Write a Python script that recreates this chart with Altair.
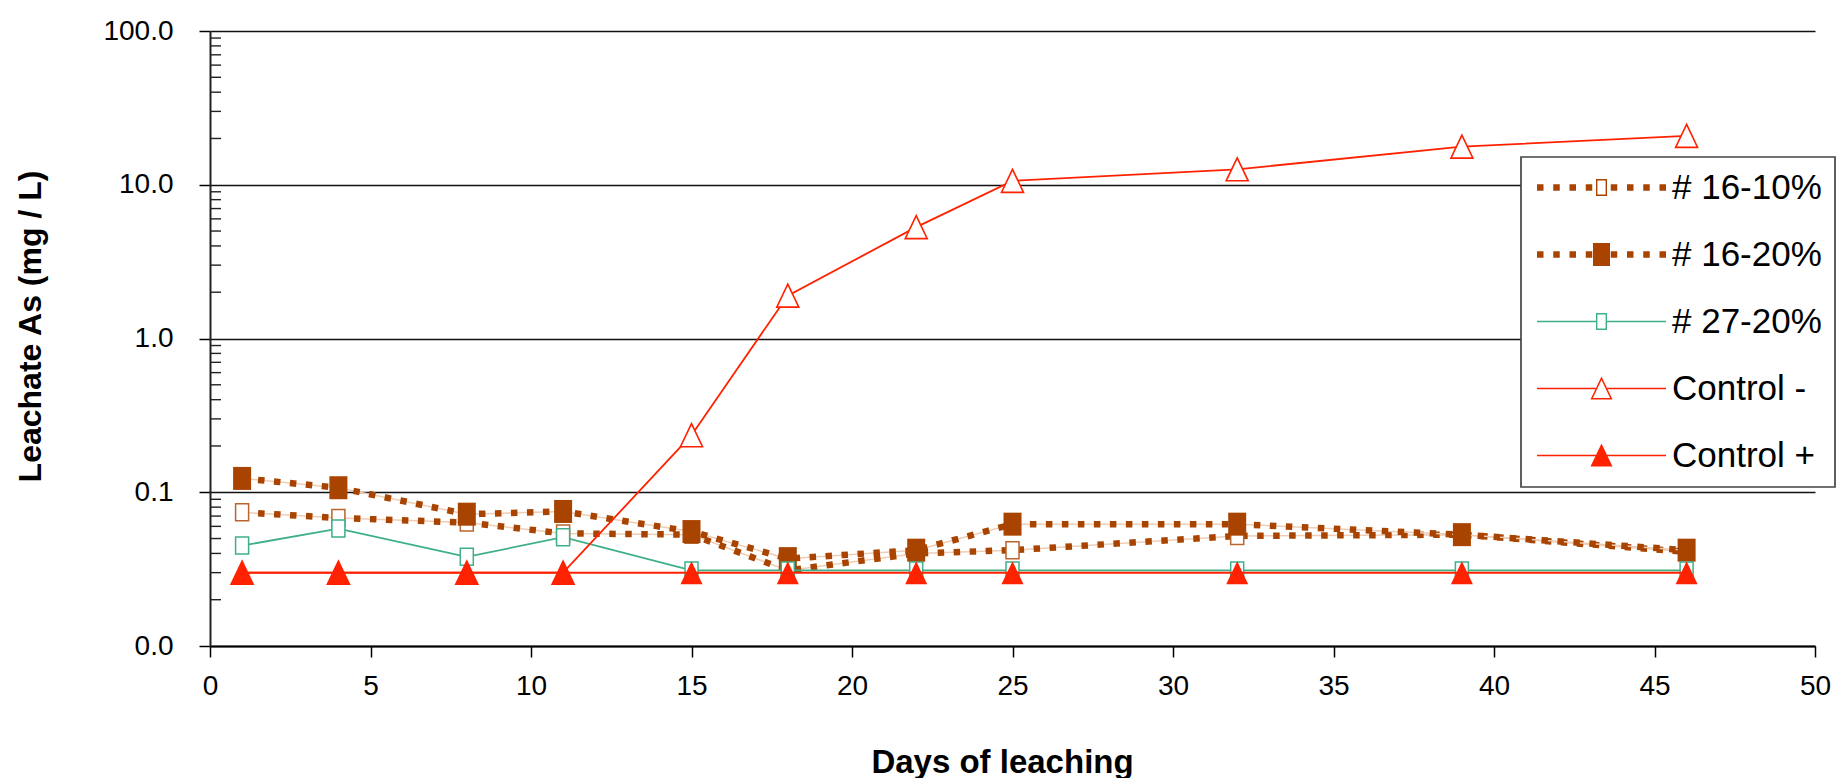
import altair as alt
import pandas as pd

# ---------------- data ----------------
days = [1, 4, 8, 11, 15, 18, 22, 25, 32, 39, 46]
s16_10 = [0.074, 0.068, 0.0635, 0.054, 0.053, 0.031, 0.040, 0.042, 0.052, 0.053, 0.041]
s16_20 = [0.123, 0.107, 0.072, 0.075, 0.0555, 0.037, 0.042, 0.062, 0.062, 0.053, 0.042]
s27_20 = [0.045, 0.058, 0.038, 0.051, 0.031, 0.031, 0.031, 0.031, 0.031, 0.031, 0.031]
ctrl_minus = [0.03, 0.03, 0.03, 0.03, 0.235, 1.9, 5.3, 10.6, 12.6, 17.7, 20.8]
ctrl_plus = [0.03, 0.03, 0.03, 0.03, 0.03, 0.03, 0.03, 0.03, 0.03, 0.03, 0.03]

series_names = ["# 16-10%", "# 16-20%", "# 27-20%", "Control -", "Control +"]
series_values = [s16_10, s16_20, s27_20, ctrl_minus, ctrl_plus]

x_ticks = [0, 5, 10, 15, 20, 25, 30, 35, 40, 45, 50]
y_ticks = [0.01, 0.1, 1, 10, 100]
minor_mult = [2, 3, 4, 5, 6, 7, 8, 9]
minor_decades = [0.01, 0.1, 1, 10]
y_minor = [m * d for d in minor_decades for m in minor_mult]

frames = {
    n: pd.DataFrame({"day": days, "value": v, "series": n})
    for n, v in zip(series_names, series_values)
}
df_all = pd.concat(list(frames.values()), ignore_index=True)
df_minor = pd.DataFrame({"value": y_minor})

# ---------------- styles ----------------
FONT = "Liberation Sans"
BROWN = "#A84400"
BROWN_OPEN = "#B9652E"
PEACH = "#EFCDB5"
TEAL = "#3FAF89"
RED = "#FF2200"

x_axis = alt.Axis(
    values=x_ticks, format="d", title="Days of leaching", grid=False,
    tickSize=11, tickColor="black", tickWidth=1.5,
    domainColor="black", domainWidth=2,
    labelFont=FONT, labelFontSize=28, labelColor="black", labelPadding=15,
    labelFlush=False, labelOverlap=False,
    titleFont=FONT, titleFontSize=33, titleFontWeight="bold", titleColor="black",
    titleX=792, titleY=116, titleAlign="center", titleBaseline="middle",
)
y_axis = alt.Axis(
    values=y_ticks, format=".1f", title="Leachate As (mg / L)", grid=True,
    gridColor="#111111", gridWidth=1.6,
    tickSize=11, tickColor="black", tickWidth=1.5,
    domainColor="#222222", domainWidth=2,
    labelFont=FONT, labelFontSize=28, labelColor="black", labelPadding=26,
    labelFlush=False, labelOverlap=False,
    titleFont=FONT, titleFontSize=32, titleFontWeight="bold", titleColor="black",
    titleAngle=270, titleX=-180, titleY=295, titleAlign="center", titleBaseline="middle",
)
X = alt.X("day:Q", scale=alt.Scale(domain=[0, 50], nice=False, zero=False), axis=x_axis)
Y = alt.Y("value:Q", scale=alt.Scale(type="log", domain=[0.01, 100], nice=False), axis=y_axis)

# marker shapes (unit paths)
OPEN_SQ = "M-0.765,-1H0.765V1H-0.765Z"
FILL_SQ = "M-0.783,-1H0.783V1H-0.783Z"
TRI = "M0,-1L0.957,1L-0.957,1Z"


def line(name, color, width, dash=None):
    kw = dict(color=color, strokeWidth=width, strokeCap="butt")
    if dash:
        kw["strokeDash"] = dash
    return alt.Chart(frames[name]).mark_line(**kw).encode(x=X, y=Y)


def points(name, shape, size, fill, stroke=None, sw=0.0):
    kw = dict(shape=shape, size=size, filled=True, fill=fill, opacity=1)
    if stroke:
        kw.update(stroke=stroke, strokeWidth=sw)
    else:
        kw.update(strokeWidth=0)
    return alt.Chart(frames[name]).mark_point(**kw).encode(x=X, y=Y)


minor_rules = alt.Chart(df_minor).mark_rule(color="#222222", strokeWidth=1.4).encode(
    y=Y, x=alt.value(0), x2=alt.value(11)
)

# ---------------- legend symbols (line + marker, px units) ----------------
def rect(cx, cy, w, h):
    return f"M{cx - w / 2:.2f},{cy - h / 2:.2f}h{w:.2f}v{h:.2f}h{-w:.2f}Z"


def rect_ccw(cx, cy, w, h):
    return f"M{cx - w / 2:.2f},{cy - h / 2:.2f}v{h:.2f}h{w:.2f}v{-h:.2f}Z"


dot_x = [-61.25, -45, -28.75, -12.5, 12.5, 28.75, 45, 61.25]
dots = "".join(rect(x, 0, 6.5, 6.5) for x in dot_x)
ring_sq = rect(0, 0, 11, 17) + rect_ccw(0, 0, 8.2, 14.2)
ring_tri = "M0,-12L11,11L-11,11Z" + "M0,-8.5L-8.6,9.5L8.6,9.5Z"
leg_paths = [
    dots + ring_sq,
    dots + rect(0, 0, 17, 23),
    rect(-35, 0, 59, 1.6) + rect(35, 0, 59, 1.6) + ring_sq,
    rect(-35.15, 0, 58.7, 1.6) + rect(35.15, 0, 58.7, 1.6) + ring_tri,
    rect(0, 0, 129, 1.6) + "M0,-12L11,11L-11,11Z",
]
leg_colors = [BROWN, BROWN, TEAL, RED, RED]

leg = alt.Legend(
    title=None, orient="none", legendX=1311, legendY=126,
    labelFont=FONT, labelFontSize=35, labelColor="black", labelLimit=600,
    symbolSize=4, symbolStrokeWidth=0, symbolOpacity=1,
    symbolOffset=50, labelOffset=53, rowPadding=31, padding=13,
    fillColor="white", strokeColor="#444444", cornerRadius=0,
)
legend_layer = alt.Chart(df_all).transform_filter("false").mark_point(
    filled=True, size=4, opacity=1
).encode(
    x=X, y=Y,
    shape=alt.Shape("series:N", scale=alt.Scale(domain=series_names, range=leg_paths), legend=leg),
    color=alt.Color("series:N", scale=alt.Scale(domain=series_names, range=leg_colors), legend=leg),
)

layers = [
    minor_rules,
    line("# 16-10%", PEACH, 1.5),
    line("# 16-10%", BROWN, 6.5, [6.5, 9.5]),
    points("# 16-10%", OPEN_SQ, 289, "white", BROWN_OPEN, 1.5),
    line("# 16-20%", PEACH, 1.5),
    line("# 16-20%", BROWN, 6.5, [6.5, 9.5]),
    points("# 16-20%", FILL_SQ, 529, BROWN),
    line("# 27-20%", TEAL, 1.8),
    points("# 27-20%", OPEN_SQ, 289, "white", TEAL, 1.5),
    line("Control -", RED, 1.8),
    points("Control -", TRI, 529, "white", RED, 1.6),
    line("Control +", RED, 2),
    points("Control +", TRI, 529, RED),
    legend_layer,
]

chart = alt.layer(*layers).properties(
    width=1605, height=615,
    autosize=alt.AutoSizeParams(type="none"),
    padding={"left": 210, "top": 31, "right": 22, "bottom": 132},
    background="white",
).configure_view(stroke="transparent").configure_legend(strokeWidth=1.7)

chart.save("out.html", embed_options={"renderer": "svg", "actions": False})
